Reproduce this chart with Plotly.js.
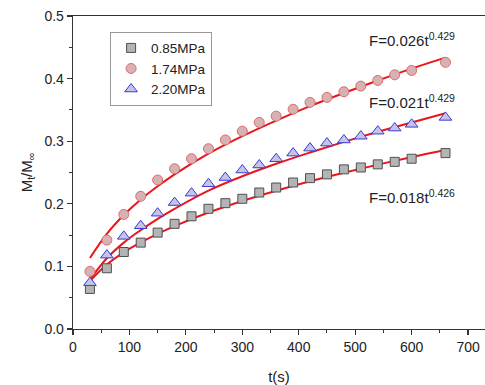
<!DOCTYPE html>
<html>
<head>
<meta charset="utf-8">
<script src="https://cdn.plot.ly/plotly-3.0.1.min.js"></script>
<style>html,body{margin:0;padding:0;background:#fff;}#chart{width:485px;height:385px;}</style>
</head>
<body>
<div id="chart"></div>
<script>
// measured data (t in s)
const timeS = [30,60,90,120,150,180,210,240,270,300,330,360,390,420,450,480,510,540,570,600,660];
const p085 = [0.064,0.097,0.123,0.138,0.154,0.168,0.180,0.192,0.201,0.208,0.218,0.226,0.234,0.241,0.247,0.255,0.258,0.263,0.267,0.272,0.281];
const p174 = [0.092,0.142,0.183,0.212,0.238,0.256,0.272,0.288,0.302,0.316,0.330,0.340,0.351,0.362,0.370,0.379,0.388,0.397,0.406,0.413,0.426];
const p220 = [0.074,0.118,0.148,0.165,0.185,0.202,0.217,0.232,0.242,0.254,0.262,0.272,0.281,0.289,0.297,0.302,0.308,0.316,0.321,0.327,0.338];

// fitted curves
const fitT   = [30,60,90,120,150,180,240,300,360,420,480,540,600,660];
const fit174 = [0.1135,0.152,0.182,0.207,0.228,0.247,0.280,0.308,0.333,0.356,0.377,0.397,0.416,0.4335];
const fit220 = [0.079,0.113,0.138,0.158,0.176,0.192,0.221,0.244,0.264,0.282,0.299,0.315,0.330,0.3445];
const fit085 = [0.0766,0.103,0.1224,0.1383,0.1521,0.1644,0.186,0.2045,0.2209,0.236,0.2497,0.2626,0.2747,0.286];

const seriesNames = ['0.85MPa','1.74MPa','2.20MPa'];
const fitLabels = ['F=0.026t<sup>0.429</sup>','F=0.021t<sup>0.429</sup>','F=0.018t<sup>0.426</sup>'];

const red = '#e8161b';
const font = 'Liberation Sans, Arial, sans-serif';

const traces = [
  {x: fitT, y: fit174, mode:'lines', line:{color:red, width:2, shape:'spline'}, showlegend:false, hoverinfo:'skip'},
  {x: fitT, y: fit220, mode:'lines', line:{color:red, width:2, shape:'spline'}, showlegend:false, hoverinfo:'skip'},
  {x: fitT, y: fit085, mode:'lines', line:{color:red, width:2, shape:'spline'}, showlegend:false, hoverinfo:'skip'},
  {x: timeS, y: p085, name: seriesNames[0], mode:'markers',
   marker:{symbol:'square', size:9, color:'#b4b4b4', line:{color:'#505050', width:1}}},
  {x: timeS, y: p174, name: seriesNames[1], mode:'markers',
   marker:{symbol:'circle', size:10, color:'#d6b2b4', line:{color:'#e06a6a', width:1}}},
  {x: timeS, y: p220, name: seriesNames[2], mode:'markers',
   marker:{symbol:'triangle-up', size:11, color:'#c4c4e6', line:{color:'#3a3ad6', width:1}}}
];

const layout = {
  width: 485, height: 385,
  margin: {l:73, r:0, t:16, b:56, pad:0},
  paper_bgcolor:'#fff', plot_bgcolor:'#fff',
  font: {family: font, size: 14, color:'#222'},
  showlegend: true,
  legend: {x:0.09, y:0.95, xanchor:'left', yanchor:'top', bgcolor:'#fff',
           bordercolor:'#999', borderwidth:1, font:{size:13.5, color:'#222'},
           traceorder:'normal', itemwidth:30, tracegroupgap:0},
  xaxis: {range:[0,730], dtick:100, tick0:0, showgrid:false, zeroline:false,
          showline:true, linecolor:'#333', linewidth:1.3, mirror:true,
          ticks:'outside', ticklen:5, tickwidth:1.2, tickcolor:'#333',
          minor:{dtick:50, ticks:'outside', ticklen:3, tickwidth:1, tickcolor:'#333'},
          tickfont:{size:14, color:'#222'}, automargin:false,
          title:{text:'t(s)', font:{size:15, color:'#222'}, standoff:18}},
  yaxis: {range:[0,0.5], dtick:0.1, tick0:0, tickformat:'.1f', showgrid:false, zeroline:false,
          showline:true, linecolor:'#333', linewidth:1.3, automargin:false,
          ticks:'outside', ticklen:5, tickwidth:1.2, tickcolor:'#333',
          minor:{dtick:0.05, ticks:'outside', ticklen:3, tickwidth:1, tickcolor:'#333'},
          tickfont:{size:14, color:'#222'},
          title:{text:'M<sub>t</sub>/M<sub>∞</sub>', font:{size:15, color:'#222'}, standoff:8}},
  annotations: [
    {x:600, y:0.462, xref:'x', yref:'y', text:fitLabels[0], showarrow:false, font:{size:15, color:'#222'}},
    {x:601, y:0.363, xref:'x', yref:'y', text:fitLabels[1], showarrow:false, font:{size:15, color:'#222'}},
    {x:601, y:0.211, xref:'x', yref:'y', text:fitLabels[2], showarrow:false, font:{size:15, color:'#222'}}
  ]
};

Plotly.newPlot('chart', traces, layout, {displayModeBar:false, staticPlot:true});
</script>
</body>
</html>
